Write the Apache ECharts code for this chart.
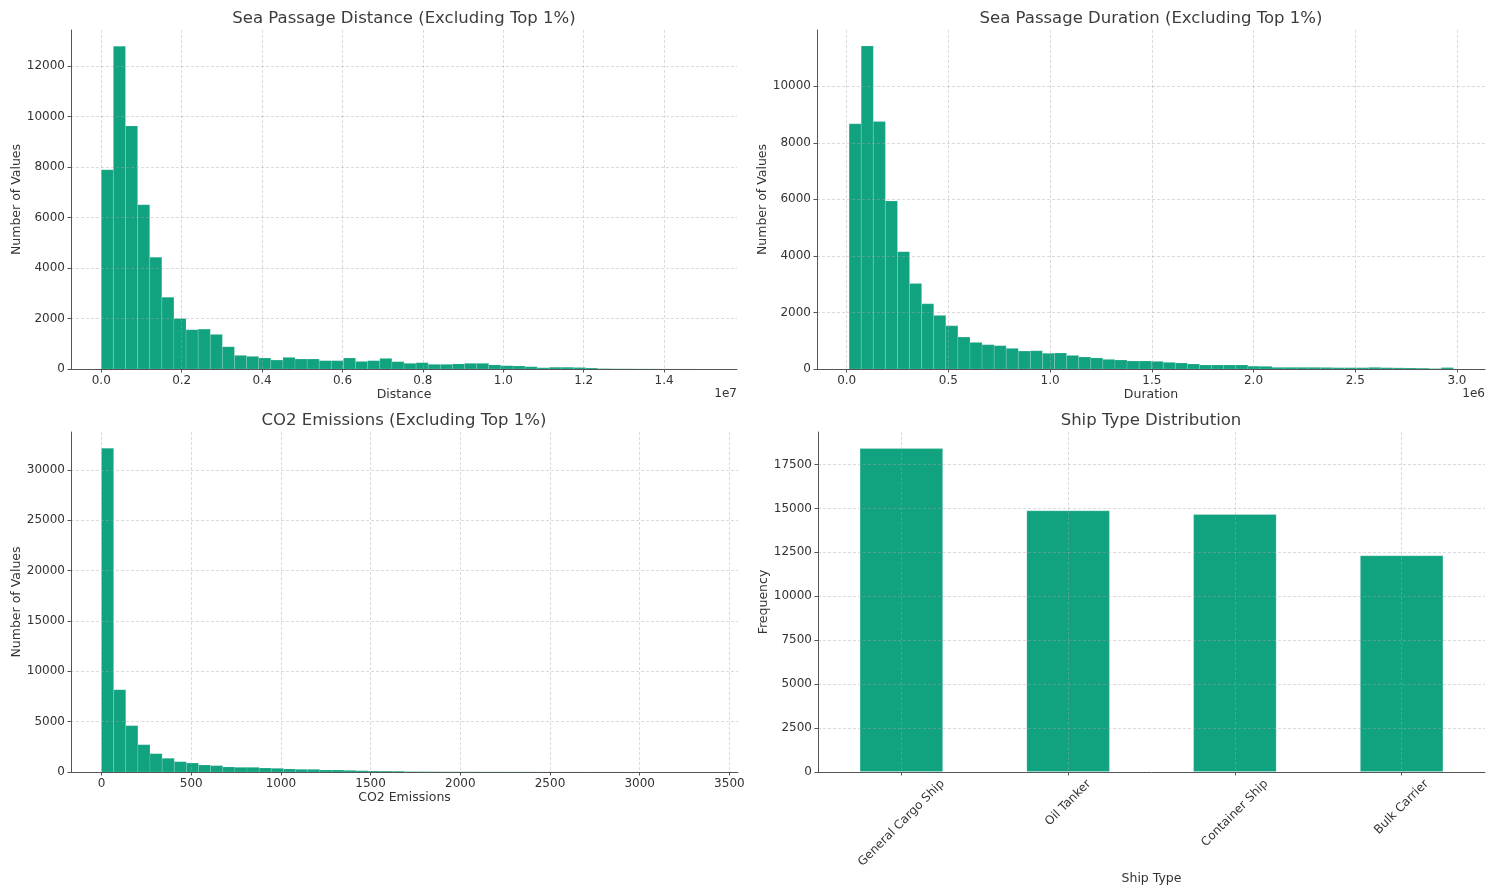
<!DOCTYPE html>
<html><head><meta charset="utf-8">
<script src="https://cdn.jsdelivr.net/npm/echarts@6/dist/echarts.min.js"></script>
<style>html,body{margin:0;padding:0;background:#fff}#c{width:1502px;height:890px}</style>
</head><body><div id="c"></div>
<script>
// ---------- DATA ----------
// Sea passage distance histogram (50 bins)
const distanceBinStart = 0;
const distanceBinWidth = 301200;
const distanceCounts = [7890, 12790, 9630, 6505, 4425, 2845, 2000, 1555, 1580, 1370,
  880, 540, 500, 435, 355, 460, 395, 395, 330, 330,
  435, 300, 330, 420, 290, 225, 250, 185, 185, 200,
  225, 225, 160, 130, 120, 90, 50, 70, 70, 60,
  40, 15, 10, 8, 5, 5, 3, 2, 2, 1];
// Sea passage duration histogram (50 bins)
const durationBinStart = 12000;
const durationBinWidth = 59400;
const durationCounts = [8670, 11420, 8750, 5940, 4150, 3020, 2305, 1895, 1530, 1130,
  940, 860, 825, 730, 635, 645, 555, 565, 480, 425,
  390, 340, 318, 282, 282, 270, 235, 212, 176, 141,
  141, 141, 141, 100, 94, 59, 59, 59, 59, 55,
  47, 47, 47, 59, 47, 40, 35, 30, 15, 50];
// CO2 emissions histogram (50 bins)
const co2BinStart = 0;
const co2BinWidth = 67.6;
const co2Counts = [32140, 8170, 4600, 2710, 1820, 1360, 1025, 890, 695, 630,
  500, 465, 465, 400, 365, 300, 265, 265, 200, 200,
  165, 130, 100, 90, 80, 40, 35, 30, 25, 20,
  20, 15, 15, 12, 10, 10, 8, 8, 6, 5,
  5, 4, 4, 3, 3, 2, 2, 2, 1, 1];
// Ship types
const shipTypes = ['General Cargo Ship', 'Oil Tanker', 'Container Ship', 'Bulk Carrier'];
const shipCounts = [18430, 14886, 14680, 12330];

// Tick values
const distanceXTicks = [0, 2e6, 4e6, 6e6, 8e6, 10e6, 12e6, 14e6];
const durationXTicks = [0, 5e5, 10e5, 15e5, 20e5, 25e5, 30e5];
const co2XTicks = [0, 500, 1000, 1500, 2000, 2500, 3000, 3500];
const distanceYTicks = [0, 2000, 4000, 6000, 8000, 10000, 12000];
const durationYTicks = [0, 2000, 4000, 6000, 8000, 10000];
const co2YTicks = [0, 5000, 10000, 15000, 20000, 25000, 30000];
const shipYTicks = [0, 2500, 5000, 7500, 10000, 12500, 15000, 17500];

// ---------- STYLE ----------
const FONT = 'DejaVu Sans';
const GREEN = '#11a37f';
const TXT = '#333333';
const axisLine = {show: true, onZero: false, lineStyle: {color: '#555555', width: 1}};
const split = {show: true, lineStyle: {color: 'rgba(165,165,165,0.5)', type: [3, 2], width: 0.8}};
const labelBase = {color: TXT, fontFamily: FONT, fontSize: 12};
const nameStyle = {color: TXT, fontFamily: FONT, fontSize: 12.5};

function hist(idx, start, width, counts) {
  const data = counts.map((c, i) => [start + i * width, start + (i + 1) * width, c]);
  return {
    type: 'custom', xAxisIndex: idx, yAxisIndex: idx, data: data,
    encode: {x: [0, 1], y: 2},
    renderItem: function (params, api) {
      const p0 = api.coord([api.value(0), api.value(2)]);
      const p1 = api.coord([api.value(1), 0]);
      return {type: 'rect',
        shape: {x: p0[0], y: p0[1], width: p1[0] - p0[0], height: p1[1] - p0[1]},
        style: {fill: GREEN, stroke: 'rgba(255,255,255,0.18)', lineWidth: 0.8}};
    }
  };
}

function valX(idx, min, max, ticks, fmt, name) {
  return {
    type: 'value', gridIndex: idx, min: min, max: max, z: 5,
    name: name, nameLocation: 'middle', nameGap: 19,
    nameTextStyle: nameStyle,
    axisLine: axisLine,
    axisTick: {show: true, length: 3.5, customValues: ticks, lineStyle: {color: '#555555'}},
    axisLabel: Object.assign({margin: 6, customValues: ticks, formatter: fmt}, labelBase),
    splitLine: split
  };
}
function valY(idx, max, ticks, name, gap) {
  return {
    type: 'value', gridIndex: idx, min: 0, max: max, z: 5,
    name: name, nameLocation: 'middle', nameGap: gap,
    nameTextStyle: nameStyle,
    axisLine: axisLine,
    axisTick: {show: true, length: 3.5, customValues: ticks, lineStyle: {color: '#555555'}},
    axisLabel: Object.assign({margin: 6, customValues: ticks, formatter: v => String(v)}, labelBase),
    splitLine: split
  };
}

// rotated category labels, centered like matplotlib (ha=center, va=top)
const cv = document.createElement('canvas').getContext('2d');
cv.font = '12px "DejaVu Sans"';
const widths = shipTypes.map(s => cv.measureText(s).width);
const Lmax = Math.max.apply(null, widths);
const hTxt = 14;
const rotMargin = 5 + 0.354 * (Lmax + hTxt);
const rich = {};
shipTypes.forEach((s, i) => {
  const P = 0.5 * (Lmax - widths[i]);
  rich['l' + i] = {color: TXT, fontFamily: FONT, fontSize: 12, padding: [0, 0, P, P]};
});

const chart = echarts.init(document.getElementById('c'), null, {renderer: 'canvas'});
const titleStyle = {color: '#3c3c3c', fontFamily: FONT, fontSize: 16.5, fontWeight: 'normal'};
chart.setOption({
  backgroundColor: '#ffffff',
  animation: false,
  title: [
    {text: 'Sea Passage Distance (Excluding Top 1%)', left: 399, top: 5, textAlign: 'center', textStyle: titleStyle},
    {text: 'Sea Passage Duration (Excluding Top 1%)', left: 1146, top: 5, textAlign: 'center', textStyle: titleStyle},
    {text: 'CO2 Emissions (Excluding Top 1%)', left: 399, top: 407, textAlign: 'center', textStyle: titleStyle},
    {text: 'Ship Type Distribution', left: 1146, top: 407, textAlign: 'center', textStyle: titleStyle}
  ],
  grid: [
    {left: 71, top: 30, width: 666, height: 339},
    {left: 817, top: 30, width: 668, height: 339},
    {left: 71, top: 432, width: 667, height: 340},
    {left: 818, top: 432, width: 667, height: 340}
  ],
  xAxis: [
    valX(0, -753000, 15813000, distanceXTicks, v => (v / 1e7).toFixed(1), 'Distance'),
    valX(1, -146000, 3138000, durationXTicks, v => (v / 1e6).toFixed(1), 'Duration'),
    valX(2, -170, 3548, co2XTicks, v => String(Math.round(v)), 'CO2 Emissions'),
    {
      type: 'category', gridIndex: 3, data: shipTypes, z: 5,
      name: 'Ship Type', nameLocation: 'middle', nameGap: 100,
      nameTextStyle: nameStyle,
      axisLine: axisLine,
      axisTick: {show: true, length: 3.5, alignWithLabel: true, lineStyle: {color: '#555555'}},
      axisLabel: {interval: 0, rotate: 45, align: 'center', verticalAlign: 'middle', margin: rotMargin,
        formatter: (v, i) => '{l' + i + '|' + v + '}', rich: rich},
      splitLine: Object.assign({alignWithLabel: true}, split)
    }
  ],
  yAxis: [
    valY(0, 13430, distanceYTicks, 'Number of Values', 44),
    valY(1, 11990, durationYTicks, 'Number of Values', 43),
    valY(2, 33750, co2YTicks, 'Number of Values', 44),
    valY(3, 19350, shipYTicks, 'Frequency', 41)
  ],
  series: [
    hist(0, distanceBinStart, distanceBinWidth, distanceCounts),
    hist(1, durationBinStart, durationBinWidth, durationCounts),
    hist(2, co2BinStart, co2BinWidth, co2Counts),
    {type: 'bar', xAxisIndex: 3, yAxisIndex: 3, data: shipCounts, barWidth: '50%',
      itemStyle: {color: GREEN, borderColor: 'rgba(255,255,255,0.25)', borderWidth: 0.8}}
  ],
  graphic: [
    {type: 'text', x: 737, y: 394, style: {text: '1e7', fill: TXT, font: '12px "DejaVu Sans"', textAlign: 'right', textVerticalAlign: 'middle'}},
    {type: 'text', x: 1485, y: 394, style: {text: '1e6', fill: TXT, font: '12px "DejaVu Sans"', textAlign: 'right', textVerticalAlign: 'middle'}}
  ]
});
</script></body></html>
